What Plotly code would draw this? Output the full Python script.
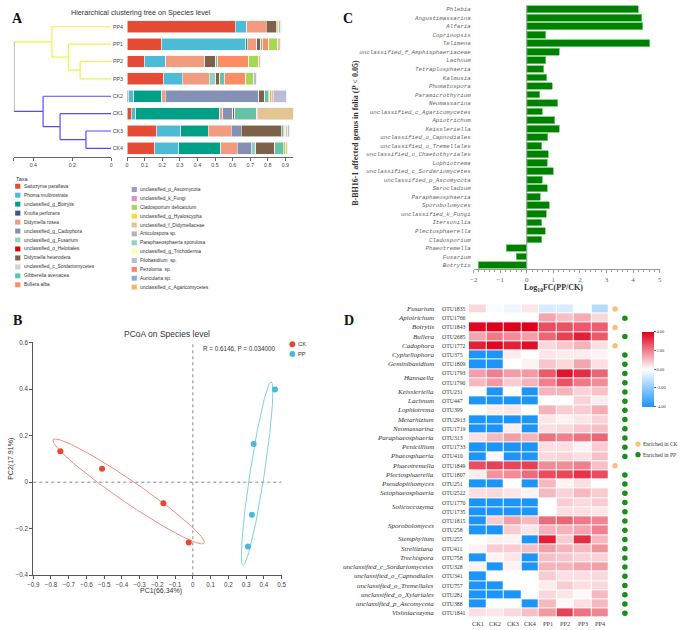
import numpy as np
import plotly.graph_objects as go

W, H = 685, 630
def X(px): return px / W
def Y(py): return 1 - py / H

SANS = "Liberation Sans"
SERIF = "Liberation Serif"
MONO = "Liberation Mono"

# ---------------- Panel A data ----------------
samples = ["PP4", "PP1", "PP2", "PP3", "CK2", "CK1", "CK3", "CK4"]
taxa = ["Saitozyma paraflava", "Phoma multirostrata", "unclassified_g_Botrytis", "Knufia perforans",
        "Didymella rosea", "unclassified_g_Cadophora", "unclassified_g_Fusarium", "unclassified_o_Helotiales",
        "Didymella heterodera", "unclassified_c_Sordariomycetes", "Gibberella avenacea", "Bullera alba",
        "unclassified_p_Ascomycota", "unclassified_k_Fungi", "Cladosporium delicatulum", "unclassified_g_Hyaloscypha",
        "unclassified_f_Didymellaceae", "Articulospora sp.", "Paraphaeosphaeria sporulosa", "unclassified_g_Trichoderma",
        "Filobasidium  sp.", "Pezoloma  sp.", "Auricularia sp.", "unclassified_c_Agaricomycetes"]
taxa_colors = ["#E64B35", "#4DBBD5", "#00A087", "#3C5488", "#F39B7F", "#8491B4", "#91D1C2", "#DC0000",
               "#7E6148", "#D3D3D3", "#66C2A5", "#FC8D62", "#8DA0CB", "#E78AC3", "#A6D854", "#FFD92F",
               "#E5C494", "#B3B3B3", "#8DD3C7", "#FFFFB3", "#BEBADA", "#FB8072", "#80B1D3", "#FDB462"]
a_pp4 = [0.615, 0.062, 0.002, 0, 0.113, 0, 0, 0, 0.057, 0, 0.006, 0.006, 0, 0, 0.012, 0, 0.006, 0, 0, 0, 0, 0, 0, 0]
a_pp1 = [0.197, 0.479, 0.006, 0, 0.056, 0, 0, 0, 0.023, 0, 0.011, 0.032, 0, 0, 0.053, 0, 0.014, 0, 0, 0, 0, 0, 0, 0]
a_pp2 = [0.100, 0.118, 0.002, 0, 0.222, 0, 0, 0, 0.062, 0, 0.013, 0.176, 0, 0, 0.057, 0, 0.009, 0, 0, 0, 0, 0, 0, 0]
a_pp3 = [0.209, 0.105, 0, 0, 0.152, 0, 0.039, 0, 0.021, 0, 0.028, 0.122, 0, 0, 0.040, 0, 0.004, 0, 0, 0, 0.017, 0, 0, 0]
a_ck2 = [0.011, 0.028, 0.158, 0, 0.021, 0.532, 0, 0, 0.032, 0, 0.020, 0.008, 0, 0, 0.010, 0, 0.010, 0, 0, 0, 0.076, 0, 0, 0]
a_ck1 = [0.024, 0.025, 0.479, 0, 0.015, 0.058, 0, 0, 0.012, 0, 0.125, 0, 0, 0, 0.003, 0, 0.204, 0, 0, 0, 0, 0, 0, 0]
a_ck3 = [0.169, 0.135, 0.158, 0, 0.130, 0.058, 0, 0, 0.226, 0, 0.013, 0.006, 0, 0, 0.008, 0, 0.010, 0, 0, 0, 0.010, 0, 0, 0]
a_ck4 = [0.158, 0.135, 0.241, 0, 0.092, 0.079, 0.026, 0, 0.109, 0, 0.047, 0, 0, 0, 0.015, 0, 0.009, 0, 0, 0, 0, 0, 0, 0]
a_values = [a_pp4, a_pp1, a_pp2, a_pp3, a_ck2, a_ck1, a_ck3, a_ck4]

merge_left = ["PP2", "PP1", "PP4", "CK3", "CK1", "CK2", "m2"]
merge_right = ["PP3", "m0", "m1", "CK4", "m3", "m4", "m5"]
merge_height = [0.16, 0.22, 0.305, 0.13, 0.263, 0.35, 0.5]
a_xticks = [0.4, 0.2, 0]
a_bar_ticks = [0, 0.1, 0.2, 0.3, 0.4, 0.5, 0.6, 0.7, 0.8, 0.9]

# ---------------- Panel B data ----------------
ck_pc1 = [-0.747, -0.512, -0.166, -0.023]
ck_pc2 = [0.133, 0.058, -0.091, -0.259]
pp_pc1 = [0.463, 0.343, 0.333, 0.311]
pp_pc2 = [0.398, 0.164, -0.140, -0.276]
b_stat = "R = 0.6146, P = 0.034000"

# ---------------- Panel C data ----------------
c_genus = ["Phlebia", "Angustimassarina", "Alfaria", "Coprinopsis", "Telimena",
           "unclassified_f_Amphisphaeriaceae", "Lachnum", "Tetraplosphaeria", "Kalmusia", "Phomatospora",
           "Paramicrothyrium", "Neomassarina", "unclassified_c_Agaricomycetes", "Apiotrichum", "Keissleriella",
           "unclassified_o_Capnodiales", "unclassified_o_Tremellales", "unclassified_o_Chaetothyriales",
           "Lophiotrema", "unclassified_c_Sordariomycetes", "unclassified_p_Ascomycota", "Sarocladium",
           "Paraphaeosphaeria", "Sporobolomyces", "unclassified_k_Fungi", "Itersonilia", "Plectosphaerella",
           "Cladosporium", "Phaeotremella", "Fusarium", "Botrytis"]
c_log10fc = [4.20, 4.32, 4.36, 0.72, 4.63, 1.22, 0.72, 0.63, 0.75, 0.95,
             0.48, 1.16, 0.59, 1.06, 1.23, 0.79, 0.56, 0.80, 0.77, 0.99,
             0.59, 0.77, 0.51, 0.85, 0.74, 0.57, 0.70, 0.56, -0.77, -0.40, -1.83]

# ---------------- Panel D data ----------------
d_samples = ["CK1", "CK2", "CK3", "CK4", "PP1", "PP2", "PP3", "PP4"]
d_genus = ["Fusarium", "Apiotrichum", "Botrytis", "Bullera", "Cadophora", "Cyphellophora", "Geminibasidium",
           "Hannaella", "Hannaella", "Keissleriella", "Lachnum", "Lophiotrema", "Metarhizium", "Neomassarina",
           "Paraphaeosphaeria", "Penicillium", "Phaeosphaeria", "Phaeotremella", "Plectosphaerella",
           "Pseudopithomyces", "Setophaeosphaeria", "Solicoccozyma", "Solicoccozyma", "Sporobolomyces",
           "Sporobolomyces", "Stemphylium", "Strelitziana", "Trechispora", "unclassified_c_Sordariomycetes",
           "unclassified_o_Capnodiales", "unclassified_o_Tremellales", "unclassified_o_Xylariales",
           "unclassified_p_Ascomycota", "Vishniacozyma"]
d_otu = ["OTU1835", "OTU1766", "OTU1843", "OTU2685", "OTU1772", "OTU375", "OTU1809", "OTU1793", "OTU1790",
         "OTU231", "OTU447", "OTU399", "OTU2913", "OTU1719", "OTU313", "OTU1733", "OTU410", "OTU1849",
         "OTU1807", "OTU251", "OTU2522", "OTU1770", "OTU1735", "OTU1815", "OTU258", "OTU255", "OTU411",
         "OTU758", "OTU328", "OTU341", "OTU757", "OTU281", "OTU388", "OTU1841"]
d_ck1 = [0.6, 0, 3.9, 1.4, 3.5, -4, -4, 1.5, 1.1, 0, -4, 0, -4, -4, 0.5, -4, -4, 2.8, 0.3, -4, 0.5, -4, -4, -4, -4, 0, 0.2, -4, 0.2, -4, -4, -4, -4, 0.5]
d_ck2 = [-0.1, 0, 4, 2.1, 3.9, -4, -4, 2.0, 1.6, -4, -4, 0.3, -4, -4, 1.1, -4, 0.1, 3.0, 1.7, -4, 0.6, -4, -4, 0.8, -4, 0.2, 0.8, 0.2, -4, 0, -4, -4, 0, 0.4]
d_ck3 = [-0.3, 0, 4, 1.8, 3.5, 0.3, 0, 1.5, 0.8, 0, -4, 0.4, -4, 0.3, 1.5, -4, -4, 2.9, 1.8, 0, 0.4, -4, -4, 1.5, 0.8, 0.2, 0.8, 0.4, 0.2, 0, 0, -4, 0, 0.6]
d_ck4 = [0.4, 0, 4, 1.5, 3.8, 0, 0.2, 1.6, 1.2, -4, -4, 0, -4, -4, 1.2, -4, -4, 3.0, 2.3, -4, 0.2, -4, -4, 1.1, 0.4, -4, 1.0, -4, -4, 0, 0, 0, -4, 1.0]
d_pp1 = [-0.7, 1.4, 2.8, 2.4, 0.6, 0.4, 0.9, 2.6, 2.0, 1.2, 0, 1.2, 0.4, 0.5, 2.2, 0.5, 0.6, 1.8, 2.8, 1.1, 1.1, 0, 0, 2.3, 1.2, 3.5, 1.5, 1.0, 1.2, 0.8, 0.3, 0.6, 1.1, 1.6]
d_pp2 = [-0.7, 1.0, 2.7, 3.0, 0.9, 0.3, 0.6, 3.7, 2.7, 1.2, 0, 0.8, 0.2, 0.6, 2.0, 0.5, 0.7, 1.8, 2.9, 0.2, 0.7, 0.8, 0.5, 2.4, 1.2, 0.8, 1.2, 0.9, 1.2, 0.5, 0.8, 0.4, 0.1, 3.0]
d_pp3 = [-0.05, 1.3, 2.6, 3.5, 1.2, 0.3, 1.4, 3.3, 2.1, 0.7, 0.7, 0.8, 0.4, 0.9, 2.2, 0.2, 0.5, 2.0, 3.2, 0.5, 1.1, 0.6, 0.5, 2.1, 1.4, 3.3, 1.1, 0.7, 1.4, 0.5, 0.5, 0.1, 0.5, 2.2]
d_pp4 = [-1.3, 0.6, 2.5, 2.6, 0.5, 0.2, 0.5, 2.4, 1.8, 1.0, 0.3, 1.3, 0.7, 1.0, 2.4, 0.8, 1.0, 1.0, 2.8, 0, 0.8, 0.8, 0.4, 1.9, 2.0, 1.1, 1.7, 0.7, 1.5, 0.6, 0.6, 1.1, 1.1, 1.9]
d_enriched = ["CK", "PP", "CK", "PP", "CK", "PP", "PP", "PP", "PP", "PP", "PP", "PP", "PP", "PP", "PP", "PP", "PP",
              "CK", "PP", "PP", "PP", "PP", "PP", "PP", "PP", "PP", "PP", "PP", "PP", "PP", "PP", "PP", "PP", "PP"]
d_cbar_ticks = [-4, -2, 0, 2, 4]

# ---------------- Figure ----------------
fig = go.Figure()
YELLOW, BLUE, GREY = "#F2F24A", "#4F4FF5", "#8A8A8A"

# Dendrogram
pos = {s: (0.0, i) for i, s in enumerate(samples)}
ncol = {s: (YELLOW if s.startswith("PP") else BLUE) for s in samples}
segs = {YELLOW: ([], []), BLUE: ([], []), GREY: ([], [])}
for i, (a, b, h) in enumerate(zip(merge_left, merge_right, merge_height)):
    ha, ya = pos[a]
    hb, yb = pos[b]
    col = GREY if i == len(merge_left) - 1 else ncol[a]
    for (c, x0, x1, y0, y1) in [(ncol[a], ha, h, ya, ya), (ncol[b], hb, h, yb, yb), (col, h, h, ya, yb)]:
        segs[c][0].extend([x0, x1, None])
        segs[c][1].extend([y0, y1, None])
    pos[f"m{i}"] = (h, (ya + yb) / 2)
    ncol[f"m{i}"] = col
for c, (xs, ys) in segs.items():
    fig.add_trace(go.Scatter(x=xs, y=ys, mode="lines", line=dict(color=c, width=1.2),
                             xaxis="x", yaxis="y", showlegend=False, hoverinfo="skip"))

# Stacked bars A
for t, name in enumerate(taxa):
    fig.add_trace(go.Bar(x=[v[t] for v in a_values], y=samples, orientation="h", width=0.68,
                         marker=dict(color=taxa_colors[t], line=dict(color="#F2F2F2", width=0.6)),
                         name=name, xaxis="x2", yaxis="y2", showlegend=False))

# PCoA B
def ellipse(xs, ys, k=1.3, n=240):
    x = np.asarray(xs); y = np.asarray(ys)
    vals, vecs = np.linalg.eigh(np.cov(x, y))
    t = np.linspace(0, 2 * np.pi, n)
    pts = vecs @ (np.sqrt(np.clip(vals, 0, None))[:, None] * np.stack([np.cos(t), np.sin(t)])) * k
    return x.mean() + pts[0], y.mean() + pts[1]

ex, ey = ellipse(ck_pc1, ck_pc2)
fig.add_trace(go.Scatter(x=ex, y=ey, mode="lines", line=dict(color="#F28B7E", width=1),
                         xaxis="x3", yaxis="y3", showlegend=False, hoverinfo="skip"))
ex, ey = ellipse(pp_pc1, pp_pc2)
fig.add_trace(go.Scatter(x=ex, y=ey, mode="lines", line=dict(color="#7FD0E3", width=1),
                         xaxis="x3", yaxis="y3", showlegend=False, hoverinfo="skip"))
fig.add_trace(go.Scatter(x=ck_pc1, y=ck_pc2, mode="markers", marker=dict(color="#E8472F", size=6),
                         xaxis="x3", yaxis="y3", showlegend=False, name="CK"))
fig.add_trace(go.Scatter(x=pp_pc1, y=pp_pc2, mode="markers", marker=dict(color="#4BBAD6", size=6),
                         xaxis="x3", yaxis="y3", showlegend=False, name="PP"))

# Bars C
fig.add_trace(go.Bar(x=c_log10fc, y=c_genus, orientation="h", width=0.8,
                     marker=dict(color="#008000", line=dict(color="#6CCB6C", width=0.8)),
                     xaxis="x4", yaxis="y4", showlegend=False))

# Heatmap D
d_cols = [d_ck1, d_ck2, d_ck3, d_ck4, d_pp1, d_pp2, d_pp3, d_pp4]
z = [[col[r] for col in d_cols] for r in range(len(d_otu))]
fig.add_trace(go.Heatmap(
    z=z, x=d_samples, y=list(range(len(d_otu))), zmin=-4, zmax=4, xgap=1, ygap=1,
    colorscale=[[0, "#1C94FA"], [0.5, "#FFFFFF"], [1, "#E0001B"]],
    colorbar=dict(x=X(646.7), xanchor="left", xpad=0, y=Y(369.2), yanchor="middle", ypad=0,
                  len=75, lenmode="pixels", thickness=12, thicknessmode="pixels",
                  tickvals=d_cbar_ticks, ticktext=[f"{v:.2f}" for v in d_cbar_ticks],
                  tickfont=dict(size=4.5, color="#444", family=SERIF), ticks="outside", ticklen=2,
                  tickcolor="#666", outlinewidth=0),
    xaxis="x5", yaxis="y5", hoverinfo="skip"))

enr_x = [0.5 if e == "CK" else 1.5 for e in d_enriched]
enr_c = ["#F9C07C" if e == "CK" else "#1C8C1C" for e in d_enriched]
fig.add_trace(go.Scatter(x=enr_x, y=list(range(len(d_otu))), mode="markers",
                         marker=dict(color=enr_c, size=5.5), xaxis="x6", yaxis="y6",
                         showlegend=False, hoverinfo="skip"))

# ---------------- Layout ----------------
tick_sans = dict(family=SANS, size=5.3, color="#444")
a_ydom = [Y(154.8), Y(14.2)]
d_ydom = [Y(620.7), Y(303.7)]
fig.update_layout(
    width=W, height=H, margin=dict(l=0, r=0, t=0, b=0), paper_bgcolor="white", plot_bgcolor="white",
    barmode="stack", showlegend=False,
    xaxis=dict(domain=[X(8), X(107)], range=[0.5, 0], tickvals=a_xticks,
               ticktext=[f"{v:g}" for v in a_xticks], showline=True, linecolor="#666", linewidth=1,
               ticks="outside", ticklen=3, tickcolor="#666", tickfont=tick_sans, showgrid=False,
               minor=dict(tickvals=[0.5], ticks="outside", ticklen=3, tickcolor="#666"),
               zeroline=False, anchor="y"),
    yaxis=dict(domain=a_ydom, range=[7.5, -0.5], visible=False, anchor="x"),
    xaxis2=dict(domain=[X(123), X(292)], range=[0, 0.945], tickvals=a_bar_ticks,
                ticktext=[f"{v:g}" for v in a_bar_ticks], showline=True, linecolor="#666", linewidth=1,
                ticks="outside", ticklen=3, tickcolor="#666", tickfont=tick_sans, showgrid=False,
                zeroline=False, anchor="y2"),
    yaxis2=dict(domain=a_ydom, type="category", categoryorder="array", categoryarray=samples,
                range=[7.5, -0.5], showline=False, ticks="", showgrid=False, tickfont=tick_sans,
                ticklabelstandoff=3, anchor="x2"),
    xaxis3=dict(domain=[X(27.7), X(280)], range=[-0.9, 0.5], tick0=-0.9, dtick=0.1, showline=True,
                linecolor="#555", linewidth=1, ticks="outside", ticklen=3, tickcolor="#555",
                tickfont=dict(family=SANS, size=6.3, color="#444"), showgrid=False, zeroline=False,
                anchor="y3"),
    yaxis3=dict(domain=[Y(577.7), Y(342.3)], range=[-0.4, 0.6], dtick=0.2, tick0=-0.4, showline=True,
                linecolor="#555", linewidth=1, ticks="outside", ticklen=3, tickcolor="#555",
                tickfont=dict(family=SANS, size=6.3, color="#444"), showgrid=False, zeroline=False,
                anchor="x3"),
    xaxis4=dict(domain=[X(475.3), X(664.3)], range=[-2, 5], dtick=1, showline=True, linecolor="#999",
                linewidth=1, ticks="outside", ticklen=3, tickcolor="#999",
                minor=dict(dtick=0.2, ticks="outside", ticklen=2, tickcolor="#999"),
                tickfont=dict(family=SERIF, size=7, color="#666"), showgrid=False, zeroline=False,
                anchor="y4"),
    yaxis4=dict(domain=[Y(268.3), Y(1.0)], type="category", categoryorder="array", categoryarray=c_genus,
                range=[30.5, -0.5], showline=False, ticks="", showgrid=False, ticklabelstandoff=2,
                tickfont=dict(family=MONO, size=5.8, color="#666", style="italic"), anchor="x4"),
    xaxis5=dict(domain=[X(470.3), X(612.7)], type="category", showline=False, ticks="", showgrid=False,
                showticklabels=False, anchor="y5"),
    yaxis5=dict(domain=d_ydom, range=[len(d_otu) - 0.5, -0.5], visible=False, anchor="x5"),
    xaxis6=dict(domain=[X(614), X(634)], range=[0, 2], visible=False, anchor="y6"),
    yaxis6=dict(domain=d_ydom, range=[len(d_otu) - 0.5, -0.5], visible=False, anchor="x6"),
)

shapes = []
ann = []

def text(x, y, s, size, family=SANS, color="#333", xanchor="center", yanchor="middle", **kw):
    ann.append(dict(x=x, y=y, xref="paper", yref="paper", text=s, showarrow=False, xanchor=xanchor,
                    yanchor=yanchor, font=dict(family=family, size=size, color=color), **kw))

# Panel letters
for L, px, py in [("A", 12, 15), ("B", 11.7, 320), ("C", 347.7, 15), ("D", 348.3, 320)]:
    text(X(px), Y(py), f"<b>{L}</b>", 14, family=SERIF, color="#111")

# Panel A titles and legend
text(X(137), Y(8.3), "Hierarchical clustering tree on Species level", 7.2, color="#333")
text(X(8.3), Y(176.7), "Taxa", 5.5, color="#333", xanchor="left")
for i, (name, col) in enumerate(zip(taxa, taxa_colors)):
    if i < 12:
        sx, sy = 9.3, 184.3 + i * 9.06
    else:
        sx, sy = 127.7, 187.7 + (i - 12) * 8.96
    shapes.append(dict(type="rect", xref="paper", yref="paper", x0=X(sx), x1=X(sx + 5.3),
                       y0=Y(sy + 2.5), y1=Y(sy - 2.5), fillcolor=col, line=dict(width=0)))
    text(X(sx + 6.5), Y(sy), name, 4.9, color="#333", xanchor="left")

# Panel B
text(X(163.3), Y(333.3), "PCoA on Species level", 8.5, color="#333")
text(X(276.5), Y(348), b_stat, 6.3, color="#333", xanchor="right")
text(X(158), Y(594), "PC1(66.34%)", 7, color="#333")
text(X(5), Y(460), "PC2(17.91%)", 7, color="#333", textangle=-90)
for lab, col, py in [("CK", "#E8472F", 344), ("PP", "#4BBAD6", 354)]:
    shapes.append(dict(type="circle", xref="paper", yref="paper", x0=X(288), x1=X(294),
                       y0=Y(py + 3), y1=Y(py - 3), fillcolor=col, line=dict(width=0)))
    text(X(295), Y(py), lab, 5.8, color="#333", xanchor="left")
shapes.append(dict(type="line", xref="x3", yref="y3 domain", x0=0, x1=0, y0=0, y1=1,
                   line=dict(color="#888", width=1, dash="dot")))
shapes.append(dict(type="line", xref="x3 domain", yref="y3", x0=0, x1=1, y0=0, y1=0,
                   line=dict(color="#888", width=1, dash="dot")))

# Panel C
shapes.append(dict(type="line", xref="x4", yref="y4 domain", x0=0, x1=0, y0=0, y1=1,
                   line=dict(color="#9A9A9A", width=1)))
text(X(556.7), Y(287), "<b>Log<sub>10</sub>FC(PP/CK)</b>", 8, family=SERIF, color="#333")
text(X(355), Y(130), "<b>B-BH16-1 affected genus in folia (<i>P</i> &lt; 0.05)</b>", 8, family=SERIF,
     color="#333", textangle=-90)

# Panel D labels
r = 0
while r < len(d_genus):
    r2 = r
    while r2 + 1 < len(d_genus) and d_genus[r2 + 1] == d_genus[r]:
        r2 += 1
    ann.append(dict(x=X(436.7), y=(r + r2) / 2, xref="paper", yref="y5", text=f"<i>{d_genus[r]}</i>",
                    showarrow=False, xanchor="right", yanchor="middle",
                    font=dict(family=SERIF, size=7, color="#333")))
    r = r2 + 1
for i, otu in enumerate(d_otu):
    ann.append(dict(x=X(441), y=i, xref="paper", yref="y5", text=otu, showarrow=False, xanchor="left",
                    yanchor="middle", font=dict(family=SERIF, size=5.8, color="#333")))
for s in d_samples:
    ann.append(dict(x=s, y=Y(626.5), xref="x5", yref="paper", text=s, showarrow=False, xanchor="center",
                    yanchor="middle", font=dict(family=SERIF, size=6.3, color="#333")))
for lab, col, py in [("Enriched in CK", "#F9C07C", 445), ("Enriched in PP", "#1C8C1C", 455.7)]:
    shapes.append(dict(type="circle", xref="paper", yref="paper", x0=X(639.6), x1=X(645),
                       y0=Y(py + 2.7), y1=Y(py - 2.7), fillcolor=col, line=dict(width=0)))
    text(X(645.5), Y(py), lab, 5.5, family=SERIF, color="#333", xanchor="left")

fig.update_layout(shapes=shapes, annotations=ann)
fig.write_html("out.html", config={"displayModeBar": False},
               post_script="document.body.style.margin='0';document.body.style.padding='0';")
